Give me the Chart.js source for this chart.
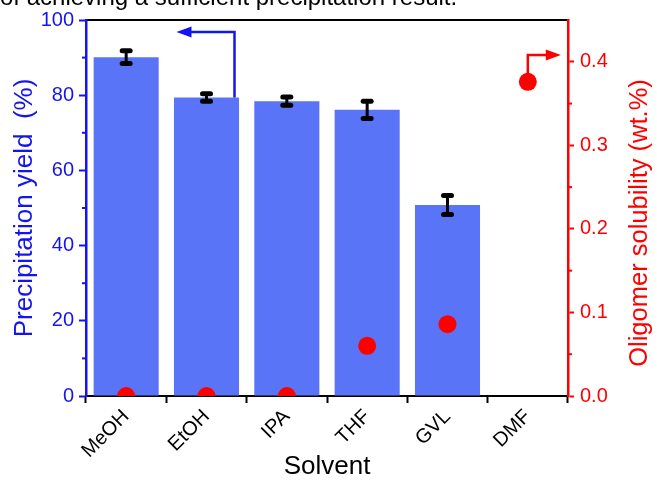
<!DOCTYPE html>
<html>
<head>
<meta charset="utf-8">
<script src="https://cdn.jsdelivr.net/npm/chart.js@4.4.1/dist/chart.umd.min.js"></script>
<style>
  html, body { margin: 0; padding: 0; background: #fff; }
  #wrap { position: relative; width: 657px; height: 482px; overflow: hidden; background: #fff; }
  #caption { position: absolute; left: 0; top: -15px; font: 24px "Liberation Sans", Arial, sans-serif; line-height: 24px; white-space: nowrap; color: #000; }
</style>
</head>
<body>
<div id="wrap">
  <canvas id="myChart" width="657" height="482"></canvas>
  <div id="caption">of achieving a sufficient precipitation result.</div>
</div>
<script>
// Precipitation yield (left axis) and oligomer solubility (right axis) per solvent

const solvents = ['MeOH', 'EtOH', 'IPA', 'THF', 'GVL', 'DMF'];
const yieldVals = [90.1, 79.4, 78.4, 76.1, 50.8, null];   // %
const yieldErr = [1.7, 1.0, 1.1, 2.3, 2.5, null];
const solubility = [0, 0, 0, 0.060, 0.086, 0.376];      // wt.%
const leftTicks = [0, 20, 40, 60, 80, 100];
const leftMinor = [10, 30, 50, 70, 90];
const rightTicks = [0, 0.1, 0.2, 0.3, 0.4];
const rightMinor = [0.05, 0.15, 0.25, 0.35];

const BLUE = '#1414f0';
const RED = '#ff0000';
const FONT = '"Liberation Sans", Arial, sans-serif';

// error bars on top of the bars
const errorBars = {
    id: 'errorBars',
    afterDatasetsDraw(chart) {
        const meta = chart.getDatasetMeta(1);
        const y = chart.scales.y;
        const ctx = chart.ctx;
        ctx.save();
        ctx.strokeStyle = '#000';
        ctx.lineCap = 'round';
        meta.data.forEach((bar, i) => {
            if (yieldVals[i] == null) return;
            const top = y.getPixelForValue(yieldVals[i] + yieldErr[i]);
            const bot = y.getPixelForValue(yieldVals[i] - yieldErr[i]);
            ctx.lineWidth = 3;
            ctx.beginPath(); ctx.moveTo(bar.x, top); ctx.lineTo(bar.x, bot); ctx.stroke();
            ctx.lineWidth = 5;
            [top, bot].forEach(py => {
                ctx.beginPath(); ctx.moveTo(bar.x - 4, py); ctx.lineTo(bar.x + 4, py); ctx.stroke();
            });
        });
        ctx.restore();
    }
};

// minor ticks, axis arrows and right title
const extras = {
    id: 'extras',
    afterDraw(chart) {
        const ctx = chart.ctx;
        const {x, y, y2} = chart.scales;
        const area = chart.chartArea;
        ctx.save();
        ctx.lineWidth = 2;
        ctx.strokeStyle = BLUE;
        leftMinor.forEach(v => {
            const py = y.getPixelForValue(v);
            ctx.beginPath(); ctx.moveTo(area.left - 4, py); ctx.lineTo(area.left, py); ctx.stroke();
        });
        ctx.strokeStyle = RED;
        rightMinor.forEach(v => {
            const py = y2.getPixelForValue(v);
            ctx.beginPath(); ctx.moveTo(area.right, py); ctx.lineTo(area.right + 4, py); ctx.stroke();
        });

        function arrow(color, pts, dir) {
            ctx.strokeStyle = color;
            ctx.fillStyle = color;
            ctx.lineWidth = 2.5;
            ctx.beginPath();
            ctx.moveTo(pts[0][0], pts[0][1]);
            ctx.lineTo(pts[1][0], pts[1][1]);
            ctx.lineTo(pts[2][0] - dir * 12, pts[2][1]);
            ctx.stroke();
            ctx.beginPath();
            ctx.moveTo(pts[2][0], pts[2][1]);
            ctx.lineTo(pts[2][0] - dir * 15, pts[2][1] - 5.5);
            ctx.lineTo(pts[2][0] - dir * 15, pts[2][1] + 5.5);
            ctx.closePath();
            ctx.fill();
        }
        // blue arrow from the EtOH bar towards the left axis
        const bx = x.getPixelForValue(1) + 28;
        const by = y.getPixelForValue(96.8);
        arrow(BLUE, [[bx, y.getPixelForValue(yieldVals[1])], [bx, by], [x.getPixelForValue(1) - 30, by]], -1);
        // red arrow from the DMF point towards the right axis
        const rx = x.getPixelForValue(5);
        const ry = y2.getPixelForValue(0.408);
        arrow(RED, [[rx, y2.getPixelForValue(solubility[5])], [rx, ry], [rx + 33, ry]], 1);

        // right axis title, reading bottom to top like the left one
        ctx.fillStyle = RED;
        ctx.font = '25.5px ' + FONT;
        ctx.textAlign = 'center';
        ctx.textBaseline = 'middle';
        ctx.translate(640, 223);
        ctx.rotate(-Math.PI / 2);
        ctx.fillText('Oligomer solubility (wt.%)', 0, 0);
        ctx.restore();
    }
};

const ctx = document.getElementById('myChart');
const myChart = new Chart(ctx, {
    type: 'bar',
    data: {
        labels: solvents,
        datasets: [
            {
                type: 'line',
                label: 'Oligomer solubility',
                data: solubility,
                yAxisID: 'y2',
                showLine: false,
                pointRadius: 9,
                pointHoverRadius: 9,
                pointBackgroundColor: RED,
                pointBorderColor: RED,
                pointBorderWidth: 0,
                clip: { left: 20, top: 20, right: 20, bottom: 0 },
                order: 0
            },
            {
                label: 'Precipitation yield',
                data: yieldVals,
                yAxisID: 'y',
                backgroundColor: '#5a74f8',
                borderWidth: 0,
                categoryPercentage: 1.0,
                barPercentage: 0.81,
                order: 1
            }
        ]
    },
    options: {
        responsive: false,
        animation: false,
        layout: { padding: { top: 20, left: 0, right: 0, bottom: 0 } },
        plugins: {
            legend: { display: false },
            tooltip: { enabled: false }
        },
        scales: {
            x: {
                offset: true,
                afterFit: s => { s.height = 86; },
                grid: { drawOnChartArea: false, tickLength: 7, tickWidth: 2, tickColor: '#000' },
                border: { color: '#000', width: 2 },
                ticks: {
                    color: '#000',
                    font: { family: FONT, size: 20 },
                    minRotation: 45,
                    maxRotation: 45,
                    padding: 2
                },
                title: {
                    display: true,
                    text: 'Solvent',
                    color: '#000',
                    font: { family: FONT, size: 26 },
                    padding: { top: 0, bottom: 0 }
                }
            },
            x2: {
                type: 'linear',
                position: 'top',
                afterFit: s => { s.height = 0; },
                grid: { drawOnChartArea: false, drawTicks: false },
                border: { color: '#000', width: 2 },
                ticks: { display: false }
            },
            y: {
                position: 'left',
                min: 0,
                max: 100,
                afterFit: s => { s.width = 86; },
                afterBuildTicks: s => { s.ticks = leftTicks.map(v => ({ value: v })); },
                grid: { drawOnChartArea: false, tickLength: 7, tickWidth: 2, tickColor: BLUE },
                border: { color: BLUE, width: 2.5 },
                ticks: { color: BLUE, font: { family: FONT, size: 20 }, padding: 5 },
                title: {
                    display: true,
                    text: 'Precipitation yield  (%)',
                    color: BLUE,
                    font: { family: FONT, size: 26, lineHeight: 1.2 },
                    padding: { top: 9, bottom: 0 }
                }
            },
            y2: {
                position: 'right',
                min: 0,
                max: 0.45,
                afterFit: s => { s.width = 89; },
                afterBuildTicks: s => { s.ticks = rightTicks.map(v => ({ value: v })); },
                grid: { drawOnChartArea: false, tickLength: 6, tickWidth: 2, tickColor: RED },
                border: { color: RED, width: 2.5 },
                ticks: {
                    color: RED,
                    font: { family: FONT, size: 20 },
                    padding: 6,
                    callback: v => v.toFixed(1)
                }
            }
        }
    },
    plugins: [errorBars, extras]
});
</script>
</body>
</html>
